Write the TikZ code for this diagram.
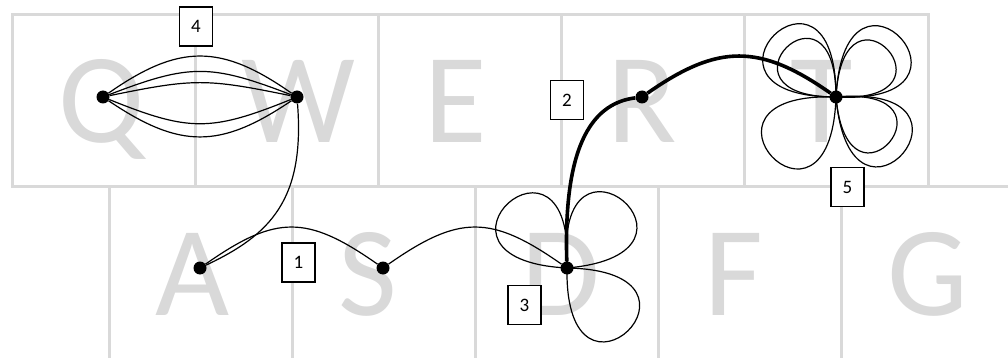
\documentclass[tikz,border=0pt]{standalone}
\usepackage{fontspec}
\setmainfont{Carlito}
\definecolor{gridgray}{HTML}{D9D9D9}
\begin{document}
\begin{tikzpicture}[x=1pt,y=-1pt,
  grid/.style={draw=gridgray, line width=3pt},
  keylabel/.style={anchor=base west, text=gridgray, font=\fontsize{128}{128}\selectfont, inner sep=0pt},
  dot/.style={circle, fill=black, inner sep=0pt, minimum size=13pt},
  thinedge/.style={line width=1.2pt},
  boldedge/.style={line width=3.6pt},
  tag/.style={draw, line width=1.1pt, fill=white, minimum width=33pt, minimum height=39pt, inner sep=0pt, font=\fontsize{19}{19}\selectfont}
]
\useasboundingbox (0,0) rectangle (1008,358);
% keyboard grid
\draw[grid] (12,15) rectangle (928,186.5);
\foreach \gx in {195,378,561,744} \draw[grid] (\gx,15) -- (\gx,186.5);
\draw[grid] (109,358) -- (109,186.5) -- (1008,186.5);
\foreach \gx in {292,475,658,841} \draw[grid] (\gx,186.5) -- (\gx,358);
% key letters
\node[keylabel] (kQ) at (58,143) {Q};
\node[keylabel] (kW) at (241,143) {W};
\node[keylabel] (kE) at (424,143) {E};
\node[keylabel] (kR) at (607,143) {R};
\node[keylabel] (kT) at (790,143) {T};
\node[keylabel] (kA) at (155,315) {A};
\node[keylabel] (kS) at (338,315) {S};
\node[keylabel] (kD) at (521,315) {D};
\node[keylabel] (kF) at (704,315) {F};
\node[keylabel] (kG) at (887,315) {G};
% vertices
\node[dot] (Q) at (103,97) {};
\node[dot] (W) at (297,97) {};
\node[dot] (A) at (200,268) {};
\node[dot] (S) at (383,268) {};
\node[dot] (D) at (567,268) {};
\node[dot] (R) at (642,97) {};
\node[dot] (T) at (836,97) {};
% Q-W multi edges
\foreach \ang in {35,21,11.6,-22,-34}
  \draw[thinedge] (Q) .. controls +(\ang:93pt) and +(180-\ang:93pt) .. (W);
% W-A
\draw[thinedge] (W) .. controls (305,200) and (270,235) .. (A);
% A-S, S-D
\draw[thinedge] (A) .. controls +(35:93pt) and +(145:93pt) .. (S);
\draw[thinedge] (S) .. controls +(35:93pt) and +(145:93pt) .. (D);
% loops at D
\foreach \ang in {132,50,-46}
  \draw[thinedge] (D.center) .. controls +(\ang-45:165pt) and +(\ang+45:165pt) .. (D.center);
% loops at T
\foreach \ang in {135,42,-40,-137}
  \draw[thinedge] (T.center) .. controls +(\ang-45:165pt) and +(\ang+45:165pt) .. (T.center);
\foreach \ang in {135,42,-40}
  \draw[thinedge] (T.center) .. controls +(\ang-45:132pt) and +(\ang+45:132pt) .. (T.center);
% bold path D-R-T
\draw[boldedge] (D) .. controls (563,140) and (595,103) .. (R);
\draw[boldedge] (R) .. controls +(35:93pt) and +(145:93pt) .. (T);
% tags
\node[tag] (t4) at (196,26.5) {4};
\node[tag] (t2) at (567,100) {2};
\node[tag] (t1) at (298.5,262.5) {1};
\node[tag] (t3) at (524.5,305) {3};
\node[tag] (t5) at (847.5,187) {5};
\end{tikzpicture}
\end{document}
